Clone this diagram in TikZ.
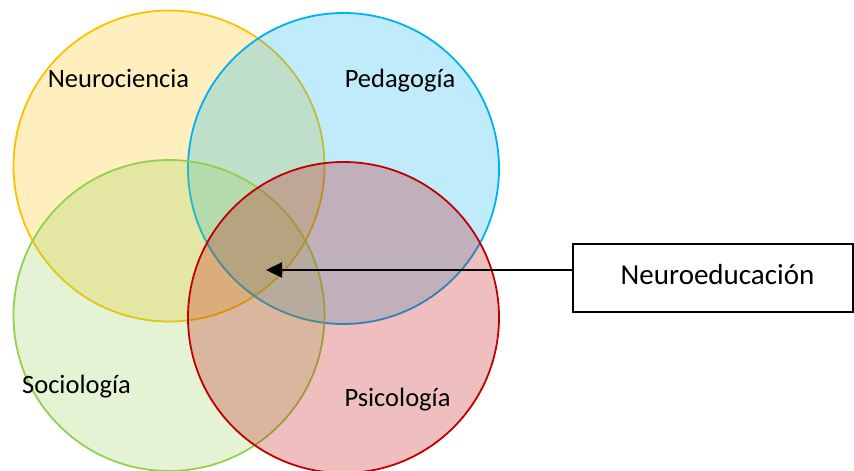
\documentclass[tikz,border=0pt]{standalone}
\usepackage{fontspec}
\setmainfont{Carlito}
\usetikzlibrary{arrows.meta}
\definecolor{cyel}{HTML}{FFC000}
\definecolor{cblu}{HTML}{00B0F0}
\definecolor{cgrn}{HTML}{92D050}
\definecolor{cred}{HTML}{C00000}
\tikzset{
  venn/.style={circle, minimum size=311pt, inner sep=0pt, line width=1.8pt, fill opacity=0.25, draw opacity=1, text opacity=1},
  lbl/.style={font=\fontsize{26.5}{31}\selectfont, inner sep=0pt, anchor=base},
  boxlbl/.style={font=\fontsize{29}{34}\selectfont, inner sep=0pt, anchor=base},
  infobox/.style={draw=black, line width=1.5pt, minimum width=280pt, minimum height=68pt, inner sep=0pt},
  pointer/.style={line width=2.3pt, -{Triangle[length=16pt,width=15pt]}}
}
\begin{document}
\begin{tikzpicture}[x=1pt,y=-1pt]
\useasboundingbox (0,0) rectangle (854,471);
\node[venn, draw=cyel, fill=cyel] (neuro) at (169,166) {};
\node[venn, draw=cblu, fill=cblu] (peda) at (343.5,168.5) {};
\node[venn, draw=cgrn, fill=cgrn] (socio) at (169,315.5) {};
\node[venn, draw=cred, fill=cred] (psico) at (343.5,317.5) {};
\node[lbl] (tneuro) at (118.5,87) {Neurociencia};
\node[lbl] (tpeda) at (400,87) {Pedagogía};
\node[lbl] (tsocio) at (76.5,393) {Sociología};
\node[lbl] (tpsico) at (397.5,406) {Psicología};
\node[infobox] (box) at (713,278) {};
\node[boxlbl] (tbox) at (717.5,284) {Neuroeducación};
\coordinate (tip) at (266,270);
\draw[pointer] (box.west |- tip) -- (tip);
\end{tikzpicture}
\end{document}
